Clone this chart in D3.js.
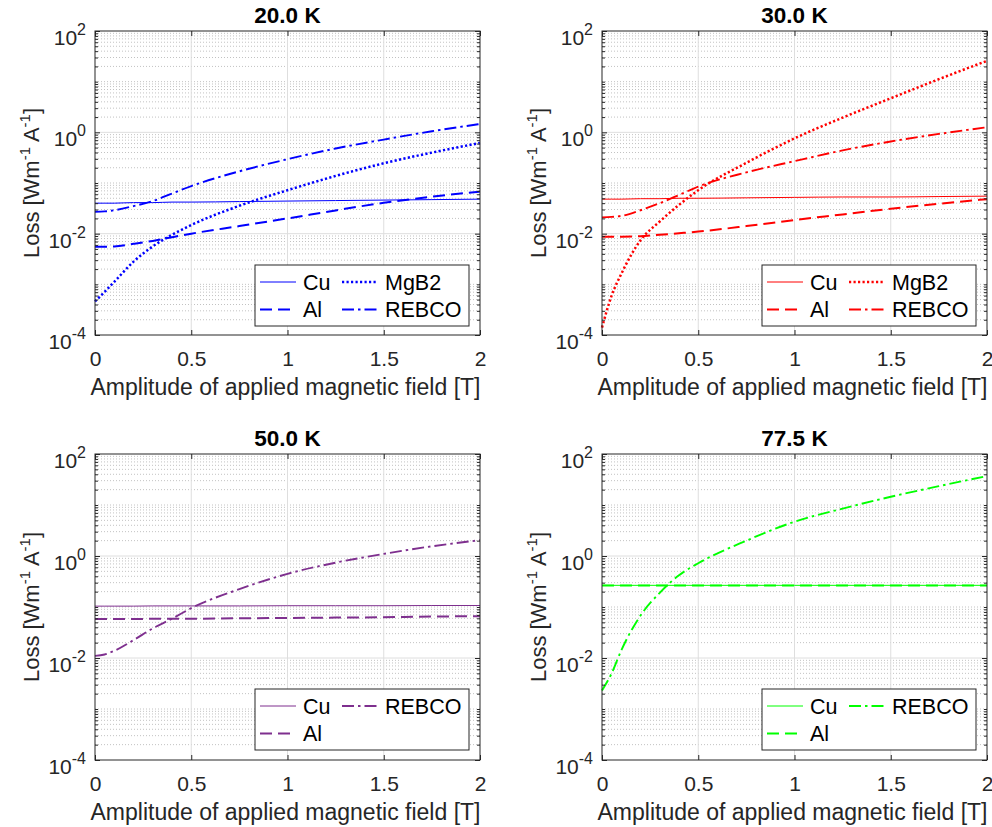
<!DOCTYPE html>
<html>
<head>
<meta charset="utf-8">
<script src="https://cdn.jsdelivr.net/npm/d3@7"></script>
<style>
  html, body { margin: 0; padding: 0; background: #fff; }
  svg { display: block; font-family: 'Liberation Sans', Arial, Helvetica, sans-serif; }
</style>
</head>
<body>
<svg id="chart" width="992" height="827"></svg>
<script>
// amplitude of applied field [T]
var fieldT = [0, 0.05, 0.1, 0.2, 0.3, 0.4, 0.5, 0.75, 1, 1.25, 1.5, 1.75, 2];

var panelTitles = ['20.0 K', '30.0 K', '50.0 K', '77.5 K'];
var xTicks = [0, 0.5, 1, 1.5, 2];
var yTickExp = [-4, -2, 0, 2];

// loss [W m^-1 A^-1]
var cu20 = [0.040, 0.040, 0.040, 0.041, 0.041, 0.042, 0.042, 0.043, 0.044, 0.045, 0.046, 0.047, 0.048];
var al20 = [0.0055, 0.0055, 0.0056, 0.0063, 0.0072, 0.0085, 0.0100, 0.0141, 0.0200, 0.0288, 0.0407, 0.0537, 0.0676];
var mgb220 = [4.6e-4, 7.1e-4, 1.12e-3, 2.8e-3, 5.6e-3, 9.5e-3, 0.0148, 0.0355, 0.072, 0.138, 0.245, 0.398, 0.617];
var rebco20 = [0.027, 0.0275, 0.029, 0.035, 0.044, 0.062, 0.087, 0.17, 0.295, 0.48, 0.72, 1.05, 1.46];

var cu30 = [0.048, 0.048, 0.048, 0.049, 0.049, 0.050, 0.050, 0.051, 0.052, 0.053, 0.053, 0.054, 0.055];
var al30 = [0.0087, 0.0087, 0.0087, 0.0089, 0.0095, 0.0102, 0.011, 0.0141, 0.0186, 0.024, 0.031, 0.039, 0.048];
var mgb230 = [1.4e-4, 6.0e-4, 1.6e-3, 7.4e-3, 0.0174, 0.037, 0.072, 0.25, 0.76, 1.95, 4.7, 11.2, 25.7];
var rebco30 = [0.021, 0.0214, 0.0224, 0.029, 0.040, 0.058, 0.085, 0.162, 0.27, 0.44, 0.66, 0.93, 1.26];

var cu50 = [0.104, 0.104, 0.104, 0.104, 0.105, 0.105, 0.105, 0.105, 0.106, 0.106, 0.106, 0.107, 0.107];
var al50 = [0.058, 0.058, 0.058, 0.058, 0.059, 0.059, 0.059, 0.060, 0.061, 0.062, 0.063, 0.065, 0.066];
var rebco50 = [0.011, 0.0117, 0.0138, 0.0224, 0.038, 0.059, 0.095, 0.224, 0.447, 0.74, 1.10, 1.55, 2.04];

var cu77 = [0.266, 0.266, 0.266, 0.266, 0.266, 0.266, 0.266, 0.266, 0.266, 0.266, 0.266, 0.266, 0.266];
var al77 = [0.264, 0.264, 0.264, 0.264, 0.264, 0.264, 0.264, 0.264, 0.264, 0.264, 0.264, 0.264, 0.264];
var rebco77 = [2.3e-3, 5.0e-3, 0.0141, 0.068, 0.19, 0.42, 0.72, 2.0, 4.7, 8.5, 14.5, 23.4, 37];

(function () {
    'use strict';

    var svg = d3.select('#chart'),
        axisColor = '#262626',
        W = 385,
        colors = ['#0000ff', '#ff0000', '#7e2f8e', '#00ff00'],
        styles = {
            Cu: {width: 1, dash: null},
            Al: {width: 2, dash: '12,6'},
            MgB2: {width: 2.5, dash: '2.2,2.3'},
            REBCO: {width: 1.9, dash: '12,4,2.5,4'}
        },
        panels = [
            {left: 95, top: 31, h: 304, series: [['Cu', cu20], ['Al', al20], ['MgB2', mgb220], ['REBCO', rebco20]]},
            {left: 602, top: 31, h: 304, series: [['Cu', cu30], ['Al', al30], ['MgB2', mgb230], ['REBCO', rebco30]]},
            {left: 95, top: 454, h: 306, series: [['Cu', cu50], ['Al', al50], ['REBCO', rebco50]]},
            {left: 602, top: 454, h: 306, series: [['Cu', cu77], ['Al', al77], ['REBCO', rebco77]]}
        ],
        minorY = [], k, m;

    for (k = -4; k < 2; k += 1) {
        for (m = 1; m < 10; m += 1) {
            if (m === 1 && k % 2 === 0) { continue; }
            minorY.push(m * Math.pow(10, k));
        }
    }

    function drawPanel(p, idx) {
        var g = svg.append('g'),
            color = colors[idx],
            bottom = p.top + p.h,
            right = p.left + W,
            x = d3.scaleLinear().domain([0, 2]).range([p.left, right]),
            y = d3.scaleLog().domain([1e-4, 1e2]).range([bottom, p.top]),
            line, leg, lx, ly, yl;

        // minor grid (dotted)
        g.append('g').selectAll('line').data(minorY).join('line')
            .attr('x1', p.left).attr('x2', right)
            .attr('y1', function (d) { return y(d); })
            .attr('y2', function (d) { return y(d); })
            .attr('stroke', '#c2c2c2').attr('stroke-width', 1)
            .attr('stroke-dasharray', '1,2');

        // major grid
        g.append('g').selectAll('line').data(xTicks.slice(1, -1)).join('line')
            .attr('x1', function (d) { return x(d); }).attr('x2', function (d) { return x(d); })
            .attr('y1', p.top).attr('y2', bottom)
            .attr('stroke', '#dedede').attr('stroke-width', 1);
        g.append('g').selectAll('line').data([1e-2, 1]).join('line')
            .attr('x1', p.left).attr('x2', right)
            .attr('y1', function (d) { return y(d); })
            .attr('y2', function (d) { return y(d); })
            .attr('stroke', '#dedede').attr('stroke-width', 1);

        // curves
        line = d3.line()
            .x(function (d, i) { return x(fieldT[i]); })
            .y(function (d) { return y(d); })
            .curve(d3.curveMonotoneX);

        p.series.forEach(function (s) {
            var st = styles[s[0]];
            g.append('path')
                .attr('d', line(s[1]))
                .attr('fill', 'none')
                .attr('stroke', color)
                .attr('stroke-width', st.width)
                .attr('stroke-dasharray', st.dash);
        });

        // axes (ticks inward on all four sides)
        g.append('g').attr('transform', 'translate(0,' + bottom + ')')
            .call(d3.axisBottom(x).tickValues(xTicks).tickSize(-5).tickPadding(16)
                .tickFormat(d3.format('')))
            .call(function (a) {
                a.select('.domain').remove();
                a.selectAll('line').attr('stroke', axisColor);
                a.selectAll('text').attr('fill', axisColor).attr('font-size', 21)
                    .attr('font-family', null);
            });
        g.append('g').attr('transform', 'translate(0,' + p.top + ')')
            .call(d3.axisTop(x).tickValues(xTicks).tickSize(-5).tickFormat(''))
            .call(function (a) {
                a.select('.domain').remove();
                a.selectAll('line').attr('stroke', axisColor);
            });
        [[p.left, d3.axisLeft], [right, d3.axisRight]].forEach(function (side) {
            g.append('g').attr('transform', 'translate(' + side[0] + ',0)')
                .call(side[1](y).tickValues(yTickExp.map(function (e) { return Math.pow(10, e); }))
                    .tickSize(-5).tickFormat(''))
                .call(function (a) {
                    a.select('.domain').remove();
                    a.selectAll('line').attr('stroke', axisColor);
                });
            g.append('g').attr('transform', 'translate(' + side[0] + ',0)')
                .call(side[1](y).tickValues(minorY).tickSize(-3).tickFormat(''))
                .call(function (a) {
                    a.select('.domain').remove();
                    a.selectAll('line').attr('stroke', axisColor);
                });
        });

        // y tick labels 10^n
        yTickExp.forEach(function (e) {
            var t = g.append('text')
                .attr('x', p.left - 9)
                .attr('y', y(Math.pow(10, e)) + 14)
                .attr('text-anchor', 'end')
                .attr('fill', axisColor)
                .attr('font-size', 21);
            t.append('tspan').text('10');
            t.append('tspan').attr('dy', -10).attr('font-size', 16).text(String(e));
        });

        // box
        g.append('rect')
            .attr('x', p.left).attr('y', p.top)
            .attr('width', W).attr('height', p.h)
            .attr('fill', 'none').attr('stroke', axisColor).attr('stroke-width', 1);

        // title and labels
        g.append('text')
            .attr('x', p.left + W / 2).attr('y', p.top - 8)
            .attr('text-anchor', 'middle')
            .attr('font-size', 22.5).attr('font-weight', 'bold')
            .text(panelTitles[idx]);

        g.append('text')
            .attr('x', p.left + W / 2 - 2).attr('y', bottom + 60)
            .attr('text-anchor', 'middle')
            .attr('fill', axisColor).attr('font-size', 23)
            .text('Amplitude of applied magnetic field [T]');

        yl = g.append('text')
            .attr('transform', 'translate(' + (p.left - 56) + ',' + (p.top + p.h / 2) + ') rotate(-90)')
            .attr('text-anchor', 'middle')
            .attr('fill', axisColor).attr('font-size', 22);
        yl.append('tspan').text('Loss [Wm');
        yl.append('tspan').attr('dy', -9).attr('font-size', 15).text('-1');
        yl.append('tspan').attr('dy', 9).text(' A');
        yl.append('tspan').attr('dy', -9).attr('font-size', 15).text('-1');
        yl.append('tspan').attr('dy', 9).text(']');

        // legend, two columns filled column-first
        lx = p.left + 160;
        ly = p.top + (idx < 2 ? 234 : 235);
        leg = g.append('g').attr('transform', 'translate(' + lx + ',' + ly + ')');
        leg.append('rect')
            .attr('width', 214).attr('height', 61)
            .attr('fill', '#fff').attr('stroke', axisColor).attr('stroke-width', 1);
        p.series.forEach(function (s, i) {
            var st = styles[s[0]],
                col = Math.floor(i / 2),
                row = i % 2,
                ox = col === 0 ? 5 : 87,
                oy = row === 0 ? 17 : 44.5;
            leg.append('line')
                .attr('x1', ox).attr('x2', ox + 36)
                .attr('y1', oy).attr('y2', oy)
                .attr('stroke', color)
                .attr('stroke-width', st.width)
                .attr('stroke-dasharray', st.dash);
            leg.append('text')
                .attr('x', ox + 43).attr('y', oy + 7.5)
                .attr('font-size', 21.5).attr('fill', '#000')
                .text(s[0]);
        });
    }

    panels.forEach(drawPanel);
}());
</script>
</body>
</html>
